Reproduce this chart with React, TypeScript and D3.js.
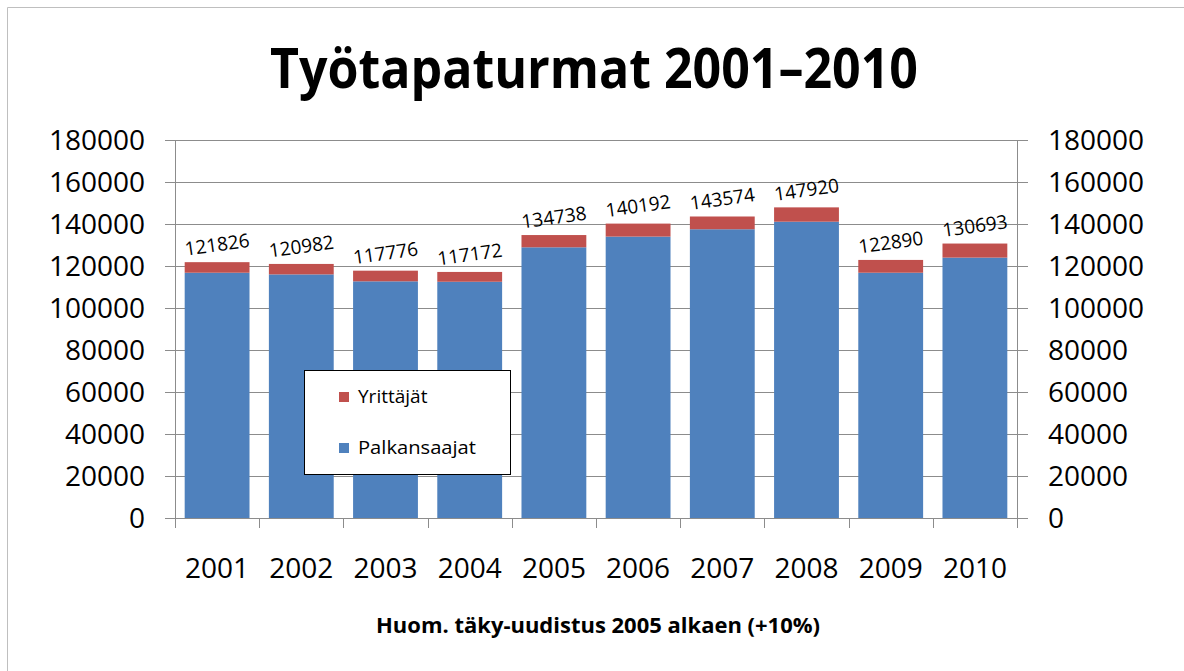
import React from "react";
import * as d3 from "d3";

const years = ["2001", "2002", "2003", "2004", "2005", "2006", "2007", "2008", "2009", "2010"];
const palkansaajat = [116800, 116000, 112700, 112500, 128900, 134000, 137500, 141100, 116800, 124000];
const yrittajat = [5026, 4982, 5076, 4672, 5838, 6192, 6074, 6820, 6090, 6693];
const yTicks = [0, 20000, 40000, 60000, 80000, 100000, 120000, 140000, 160000, 180000];
const title = "Työtapaturmat 2001–2010";
const footnote = "Huom. täky-uudistus 2005 alkaen (+10%)";
const seriesNames = ["Yrittäjät", "Palkansaajat"];

const W = 1184;
const H = 671;
const BLUE = "#4F81BD";
const RED = "#C0504D";
const GRID = "#8C8C8C";
const FONT = "'Open Sans', 'Noto Sans', sans-serif";

export default function App() {
  const left = 175;
  const right = 1017;
  const x = d3
    .scaleBand<string>()
    .domain(years)
    .range([left, right])
    .paddingInner(0.23)
    .paddingOuter(0.115);
  const y = d3.scaleLinear().domain([0, 180000]).range([518, 140]);
  const step = (right - left) / years.length;

  const data = years.map((yr, i) => ({
    yr,
    p: palkansaajat[i],
    r: yrittajat[i],
    total: palkansaajat[i] + yrittajat[i],
  }));

  return (
    <svg
      width={W}
      height={H}
      style={{ position: "absolute", left: 0, top: 0, display: "block", background: "#fff" }}
      fontFamily={FONT}
    >
      <rect x={0} y={0} width={W} height={H} fill="#fff" />
      {/* frame */}
      <line x1={7.5} y1={7.5} x2={W} y2={7.5} stroke="#BFBFBF" strokeWidth={1} />
      <line x1={7.5} y1={7.5} x2={7.5} y2={H} stroke="#BFBFBF" strokeWidth={1} />

      {/* title */}
      <text
        x={594}
        y={88}
        textAnchor="middle"
        fontSize={56}
        fontWeight="bold"
        textLength={648}
        lengthAdjust="spacingAndGlyphs"
        fill="#000"
      >
        {title}
      </text>

      {/* gridlines */}
      {yTicks.map((t) => (
        <line key={"g" + t} x1={left} x2={right} y1={Math.round(y(t)) + 0.5} y2={Math.round(y(t)) + 0.5} stroke={GRID} strokeWidth={1} />
      ))}

      {/* bars */}
      {data.map((d) => (
        <g key={d.yr}>
          <rect x={x(d.yr)} y={y(d.p)} width={x.bandwidth()} height={y(0) - y(d.p)} fill={BLUE} />
          <rect x={x(d.yr)} y={y(d.total)} width={x.bandwidth()} height={y(d.p) - y(d.total)} fill={RED} />
        </g>
      ))}

      {/* axes */}
      <line x1={left + 0.5} x2={left + 0.5} y1={y(180000)} y2={y(0)} stroke={GRID} />
      <line x1={right + 0.5} x2={right + 0.5} y1={y(180000)} y2={y(0)} stroke={GRID} />
      <line x1={left} x2={right} y1={y(0) + 0.5} y2={y(0) + 0.5} stroke={GRID} />
      {yTicks.map((t) => (
        <g key={"t" + t}>
          <line x1={left - 10} x2={left} y1={Math.round(y(t)) + 0.5} y2={Math.round(y(t)) + 0.5} stroke={GRID} />
          <line x1={right} x2={right + 11} y1={Math.round(y(t)) + 0.5} y2={Math.round(y(t)) + 0.5} stroke={GRID} />
          <text x={145} y={y(t) + 10} textAnchor="end" fontSize={28} fill="#000">
            {t}
          </text>
          <text x={1048} y={y(t) + 10} textAnchor="start" fontSize={28} fill="#000">
            {t}
          </text>
        </g>
      ))}
      {d3.range(years.length + 1).map((i) => (
        <line
          key={"xt" + i}
          x1={Math.round(left + i * step) + 0.5}
          x2={Math.round(left + i * step) + 0.5}
          y1={y(0)}
          y2={y(0) + 10}
          stroke={GRID}
        />
      ))}
      {years.map((yr) => (
        <text key={"xl" + yr} x={(x(yr) as number) + x.bandwidth() / 2} y={578} textAnchor="middle" fontSize={28} fill="#000">
          {yr}
        </text>
      ))}

      {/* value labels */}
      {data.map((d) => {
        const cx = (x(d.yr) as number) + x.bandwidth() / 2 + 1;
        const cy = y(d.total) - 11;
        return (
          <text
            key={"v" + d.yr}
            x={cx}
            y={cy}
            textAnchor="middle"
            fontSize={19}
            fill="#000"
            transform={`rotate(-8 ${cx} ${cy})`}
          >
            {d.total}
          </text>
        );
      })}

      {/* legend */}
      <rect x={304.5} y={370.5} width={206} height={104} fill="#fff" stroke="#000" strokeWidth={1} />
      <rect x={339} y={392} width={10} height={10} fill={RED} />
      <text x={358} y={403} fontSize={19} fill="#000">
        {seriesNames[0]}
      </text>
      <rect x={339} y={443} width={10} height={10} fill={BLUE} />
      <text x={358} y={454} fontSize={19} fill="#000" textLength={118} lengthAdjust="spacingAndGlyphs">
        {seriesNames[1]}
      </text>

      {/* footnote */}
      <text
        x={598}
        y={633}
        textAnchor="middle"
        fontSize={21}
        fontWeight="bold"
        textLength={444}
        lengthAdjust="spacingAndGlyphs"
        fill="#000"
      >
        {footnote}
      </text>
    </svg>
  );
}
